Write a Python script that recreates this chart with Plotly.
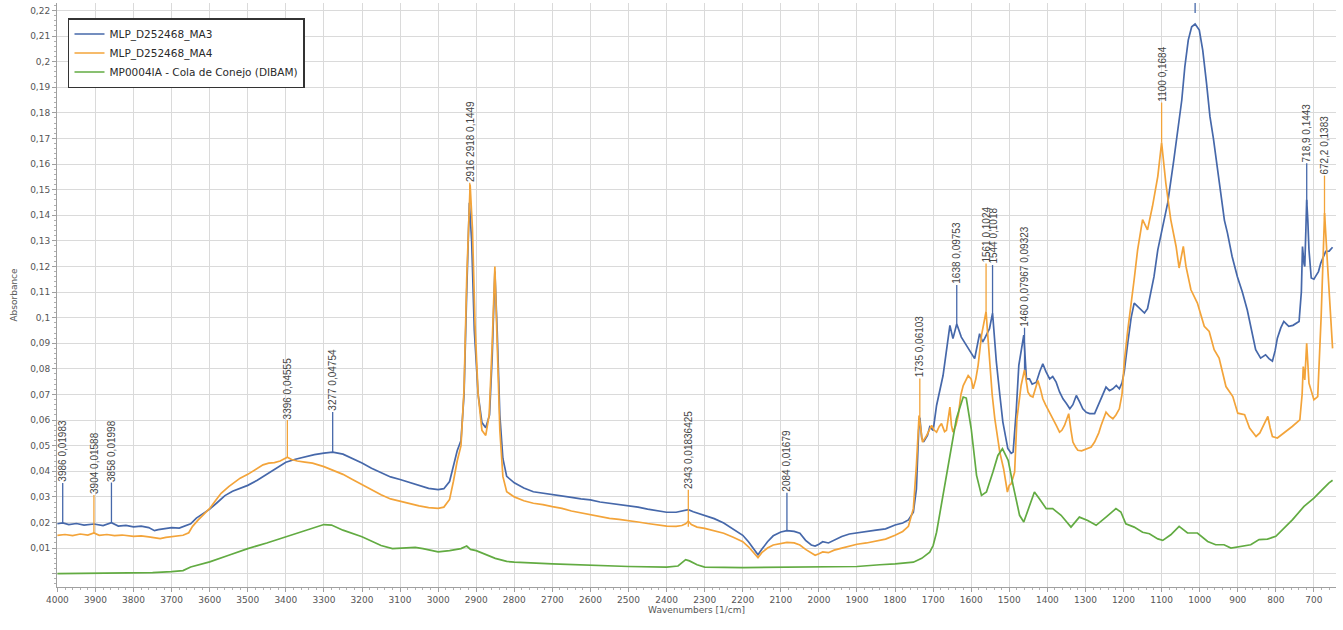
import plotly.graph_objects as go
import numpy as np

# ---------------- data ----------------
ma3_wn = [4000, 3986, 3970, 3950, 3930, 3904, 3880, 3858, 3840, 3820, 3800, 3780, 3760, 3745, 3735, 3720,
          3700, 3680, 3665, 3650, 3635, 3620, 3600, 3580, 3560, 3540, 3520, 3500, 3475, 3450, 3425, 3400,
          3375, 3350, 3325, 3300, 3277, 3250, 3225, 3200, 3175, 3150, 3125, 3100, 3075, 3050, 3025, 3000,
          2985, 2970, 2960, 2950, 2940, 2932, 2925, 2918, 2912, 2905, 2895, 2885, 2875, 2865, 2858, 2851,
          2845, 2838, 2830, 2820, 2800, 2775, 2750, 2725, 2700, 2675, 2650, 2625, 2600, 2575, 2550, 2525,
          2500, 2475, 2450, 2425, 2400, 2375, 2360, 2343, 2330, 2315, 2300, 2275, 2250, 2225, 2200, 2185,
          2170, 2160, 2150, 2135, 2120, 2100, 2084, 2065, 2050, 2035, 2020, 2010, 2000, 1990, 1975, 1960,
          1940, 1920, 1900, 1875, 1850, 1825, 1800, 1780, 1765, 1752, 1744, 1738, 1735, 1730, 1725, 1715,
          1709, 1700, 1691, 1674, 1662, 1656, 1648, 1638, 1626, 1613, 1600, 1591, 1578, 1570, 1565, 1552,
          1544, 1534, 1525, 1517, 1504, 1495, 1490, 1482, 1475, 1467, 1462, 1455, 1447, 1440, 1429, 1420,
          1412, 1404, 1394, 1386, 1377, 1368, 1359, 1350, 1341, 1333, 1324, 1315, 1307, 1298, 1289, 1276,
          1263, 1254, 1246, 1237, 1228, 1219, 1211, 1204, 1198, 1189, 1180, 1172, 1160, 1145, 1137, 1128,
          1120, 1110, 1097, 1084, 1068, 1058, 1047, 1039, 1030, 1021, 1012, 1001, 992, 982, 973, 964,
          955, 946, 935, 927, 915, 901, 888, 875, 863, 853, 840, 827, 818, 809, 802, 796,
          787, 779, 772, 766, 755, 745, 739, 733, 730, 726, 724, 721, 719, 716, 713, 707,
          700, 696, 688, 682, 675, 669, 660, 651]
ma3_abs = [0.0195, 0.0198, 0.0192, 0.0196, 0.0190, 0.0194, 0.0188, 0.0199, 0.0186, 0.0189, 0.0183, 0.0186, 0.0180, 0.0168, 0.0172, 0.0176,
           0.0180, 0.0178, 0.0186, 0.0195, 0.0217, 0.0232, 0.0252, 0.0278, 0.0305, 0.0322, 0.0335, 0.0345, 0.0365, 0.0388, 0.0410, 0.0435,
           0.0447, 0.0457, 0.0465, 0.0471, 0.0475, 0.0467, 0.0450, 0.0432, 0.0412, 0.0394, 0.0378, 0.0368, 0.0356, 0.0345, 0.0333, 0.0328,
           0.0332, 0.0360, 0.0420, 0.0480, 0.0520, 0.0700, 0.1100, 0.1449, 0.1300, 0.0950, 0.0700, 0.0590, 0.0570, 0.0620, 0.0850, 0.1180,
           0.0950, 0.0620, 0.0450, 0.0380, 0.0355, 0.0335, 0.0320, 0.0315, 0.0310, 0.0305, 0.0298, 0.0292, 0.0288, 0.0280, 0.0275, 0.0270,
           0.0266, 0.0260, 0.0252, 0.0245, 0.0240, 0.0240, 0.0245, 0.0250, 0.0242, 0.0235, 0.0228, 0.0215, 0.0198, 0.0175, 0.0150, 0.0125,
           0.0095, 0.0074, 0.0095, 0.0125, 0.0148, 0.0163, 0.0168, 0.0165, 0.0158, 0.0130, 0.0112, 0.0108, 0.0115, 0.0125, 0.0120, 0.0132,
           0.0145, 0.0155, 0.0160, 0.0165, 0.0170, 0.0175, 0.0190, 0.0198, 0.0210, 0.0240, 0.0330, 0.0560, 0.0610, 0.0530, 0.0515, 0.0540,
           0.0573, 0.0560, 0.0657, 0.0774, 0.0900, 0.0970, 0.0918, 0.0975, 0.0924, 0.0892, 0.0860, 0.0840, 0.0937, 0.0905, 0.0918, 0.0957,
           0.1018, 0.0827, 0.0700, 0.0593, 0.0489, 0.0470, 0.0475, 0.0631, 0.0814, 0.0880, 0.0932, 0.0761, 0.0761, 0.0740, 0.0748, 0.0790,
           0.0820, 0.0790, 0.0761, 0.0770, 0.0748, 0.0710, 0.0683, 0.0665, 0.0644, 0.0660, 0.0696, 0.0670, 0.0644, 0.0630, 0.0625, 0.0625,
           0.0670, 0.0700, 0.0729, 0.0715, 0.0722, 0.0735, 0.0722, 0.0745, 0.0790, 0.0900, 0.1000, 0.1057, 0.1040, 0.1018, 0.1035, 0.1096,
           0.1160, 0.1265, 0.1360, 0.1448, 0.1615, 0.1720, 0.1850, 0.1980, 0.2084, 0.2136, 0.2147, 0.2123, 0.2045, 0.1915, 0.1785, 0.1700,
           0.1600, 0.1480, 0.1380, 0.1330, 0.1240, 0.1160, 0.1100, 0.1030, 0.0950, 0.0875, 0.0842, 0.0855, 0.0840, 0.0830, 0.0870, 0.0920,
           0.0960, 0.0985, 0.0975, 0.0966, 0.0970, 0.0980, 0.0985, 0.1100, 0.1278, 0.1210, 0.1200, 0.1350, 0.1460, 0.1380, 0.1265, 0.1155,
           0.1150, 0.1160, 0.1180, 0.1213, 0.1240, 0.1259, 0.1260, 0.1275]

ma4_wn = [4000, 3980, 3960, 3940, 3920, 3904, 3890, 3870, 3850, 3830, 3800, 3780, 3760, 3740, 3730, 3715,
          3700, 3685, 3670, 3655, 3645, 3630, 3615, 3600, 3585, 3570, 3550, 3535, 3520, 3500, 3480, 3460,
          3445, 3430, 3415, 3396, 3385, 3370, 3350, 3330, 3300, 3275, 3250, 3225, 3200, 3175, 3150, 3125,
          3100, 3075, 3050, 3025, 3000, 2985, 2970, 2960, 2950, 2940, 2932, 2925, 2916, 2910, 2903, 2895,
          2885, 2875, 2866, 2858, 2851, 2845, 2838, 2830, 2820, 2800, 2775, 2750, 2725, 2700, 2675, 2650,
          2625, 2600, 2575, 2550, 2525, 2500, 2475, 2450, 2425, 2400, 2375, 2360, 2350, 2343, 2335, 2320,
          2300, 2275, 2250, 2225, 2200, 2185, 2170, 2160, 2150, 2135, 2120, 2100, 2084, 2065, 2050, 2035,
          2020, 2010, 2000, 1990, 1975, 1960, 1940, 1920, 1900, 1875, 1850, 1825, 1800, 1780, 1765, 1752,
          1744, 1737, 1732, 1728, 1717, 1710, 1704, 1697, 1691, 1684, 1678, 1670, 1665, 1656, 1652, 1648,
          1640, 1634, 1627, 1621, 1608, 1600, 1595, 1588, 1582, 1573, 1561, 1556, 1552, 1545, 1538, 1525,
          1515, 1509, 1505, 1500, 1495, 1486, 1480, 1469, 1460, 1451, 1445, 1438, 1432, 1425, 1418, 1412,
          1405, 1399, 1392, 1386, 1377, 1368, 1362, 1355, 1344, 1338, 1333, 1326, 1320, 1310, 1298, 1285,
          1276, 1265, 1259, 1246, 1237, 1228, 1220, 1211, 1204, 1198, 1189, 1180, 1172, 1163, 1150, 1137,
          1124, 1110, 1100, 1089, 1076, 1062, 1054, 1043, 1036, 1023, 1006, 988, 975, 962, 949, 931,
          913, 900, 882, 869, 852, 842, 834, 821, 815, 809, 796, 779, 757, 737, 731, 728,
          724, 719, 716, 713, 700, 690, 681, 675, 672, 665, 656, 651]
ma4_abs = [0.0150, 0.0153, 0.0149, 0.0155, 0.0151, 0.0159, 0.0150, 0.0153, 0.0149, 0.0151, 0.0146, 0.0148, 0.0144, 0.0140, 0.0137, 0.0142,
           0.0144, 0.0146, 0.0150, 0.0160, 0.0185, 0.0210, 0.0232, 0.0255, 0.0285, 0.0314, 0.0340, 0.0356, 0.0373, 0.0388, 0.0405, 0.0425,
           0.0432, 0.0434, 0.0440, 0.0455, 0.0446, 0.0440, 0.0436, 0.0432, 0.0418, 0.0402, 0.0388, 0.0368, 0.0348, 0.0326, 0.0308, 0.0292,
           0.0282, 0.0272, 0.0265, 0.0258, 0.0255, 0.0260, 0.0290, 0.0360, 0.0440, 0.0500, 0.0720, 0.1150, 0.1520, 0.1350, 0.0970, 0.0700,
           0.0560, 0.0540, 0.0620, 0.0900, 0.1200, 0.0900, 0.0560, 0.0380, 0.0320, 0.0300, 0.0285, 0.0275, 0.0270, 0.0262, 0.0255, 0.0245,
           0.0238, 0.0230, 0.0222, 0.0216, 0.0212, 0.0208, 0.0202, 0.0196, 0.0190, 0.0186, 0.0185, 0.0188, 0.0195, 0.0205, 0.0192, 0.0182,
           0.0177, 0.0168, 0.0158, 0.0142, 0.0125, 0.0105, 0.0080, 0.0063, 0.0082, 0.0100, 0.0112, 0.0118, 0.0122, 0.0120, 0.0112, 0.0095,
           0.0080, 0.0072, 0.0078, 0.0085, 0.0082, 0.0092, 0.0100, 0.0108, 0.0115, 0.0120, 0.0128, 0.0135, 0.0150, 0.0165, 0.0185, 0.0254,
           0.0423, 0.0618, 0.0560, 0.0514, 0.0540, 0.0560, 0.0579, 0.0560, 0.0553, 0.0575, 0.0586, 0.0555, 0.0560, 0.0651, 0.0580, 0.0553,
           0.0580, 0.0618, 0.0700, 0.0735, 0.0774, 0.0760, 0.0722, 0.0760, 0.0813, 0.0931, 0.1024, 0.0920, 0.0827, 0.0700, 0.0605, 0.0475,
           0.0410, 0.0360, 0.0319, 0.0345, 0.0351, 0.0397, 0.0605, 0.0735, 0.0797, 0.0709, 0.0695, 0.0690, 0.0720, 0.0755, 0.0720, 0.0683,
           0.0660, 0.0644, 0.0625, 0.0605, 0.0580, 0.0553, 0.0560, 0.0579, 0.0625, 0.0560, 0.0514, 0.0495, 0.0482, 0.0480, 0.0488, 0.0495,
           0.0514, 0.0550, 0.0579, 0.0631, 0.0615, 0.0605, 0.0620, 0.0644, 0.0700, 0.0827, 0.0950, 0.1050, 0.1150, 0.1265, 0.1383, 0.1343,
           0.1435, 0.1552, 0.1684, 0.1526, 0.1383, 0.1278, 0.1194, 0.1278, 0.1200, 0.1109, 0.1057, 0.0966, 0.0946, 0.0875, 0.0842, 0.0731,
           0.0692, 0.0627, 0.0621, 0.0569, 0.0536, 0.0550, 0.0575, 0.0614, 0.0570, 0.0536, 0.0530, 0.0549, 0.0575, 0.0601, 0.0700, 0.0809,
           0.0757, 0.0900, 0.0820, 0.0744, 0.0679, 0.0692, 0.1004, 0.1300, 0.1409, 0.1226, 0.0978, 0.0880]

ref_wn = [4000, 3900, 3800, 3750, 3700, 3670, 3650, 3600, 3550, 3500, 3450, 3400, 3350, 3300, 3280, 3250,
          3200, 3150, 3120, 3080, 3060, 3040, 3000, 2970, 2940, 2925, 2915, 2900, 2870, 2850, 2820, 2800,
          2700, 2600, 2500, 2400, 2370, 2350, 2340, 2320, 2300, 2200, 2100, 2000, 1900, 1840, 1800, 1752,
          1730, 1709, 1700, 1691, 1674, 1656, 1639, 1621, 1613, 1600, 1586, 1573, 1560, 1543, 1530, 1518,
          1503, 1490, 1473, 1462, 1447, 1434, 1421, 1403, 1386, 1364, 1338, 1316, 1294, 1272, 1246, 1220,
          1207, 1194, 1172, 1150, 1132, 1110, 1097, 1076, 1054, 1032, 1006, 979, 958, 936, 918, 883,
          866, 844, 822, 800, 783, 756, 726, 700, 678, 661, 651]
ref_abs = [0.0000, 0.0001, 0.0002, 0.0004, 0.0008, 0.0012, 0.0026, 0.0046, 0.0072, 0.0098, 0.0120, 0.0144, 0.0168, 0.0192, 0.0190, 0.0170,
           0.0144, 0.0110, 0.0098, 0.0100, 0.0103, 0.0098, 0.0085, 0.0090, 0.0098, 0.0108, 0.0095, 0.0090, 0.0072, 0.0060, 0.0048, 0.0045,
           0.0038, 0.0032, 0.0028, 0.0026, 0.0030, 0.0055, 0.0050, 0.0035, 0.0026, 0.0024, 0.0025, 0.0025, 0.0028, 0.0035, 0.0038, 0.0045,
           0.0060, 0.0084, 0.0110, 0.0162, 0.0306, 0.0475, 0.0605, 0.0690, 0.0686, 0.0566, 0.0384, 0.0306, 0.0319, 0.0397, 0.0462, 0.0488,
           0.0443, 0.0345, 0.0228, 0.0202, 0.0267, 0.0319, 0.0293, 0.0254, 0.0254, 0.0228, 0.0182, 0.0221, 0.0208, 0.0189, 0.0221, 0.0254,
           0.0241, 0.0195, 0.0182, 0.0162, 0.0156, 0.0136, 0.0130, 0.0152, 0.0185, 0.0159, 0.0159, 0.0126, 0.0113, 0.0113, 0.0100, 0.0107,
           0.0113, 0.0133, 0.0135, 0.0146, 0.0172, 0.0211, 0.0263, 0.0295, 0.0328, 0.0354, 0.0365]

series_names = ["MLP_D252468_MA3", "MLP_D252468_MA4", "MP0004IA - Cola de Conejo (DIBAM)"]

# peak labels: wavenumber, labelled absorbance, text, series index
label_wn = [3986, 3904, 3858, 3396, 3277, 2917, 2343, 2084, 1735, 1638, 1561, 1544, 1460, 1100, 718.9, 672.2]
label_val = [0.01983, 0.01588, 0.01998, 0.04555, 0.04754, 0.1449, 0.01836, 0.01679, 0.06103, 0.09753,
             0.1024, 0.1018, 0.07967, 0.1684, 0.1443, 0.1383]
label_text = ["3986 0,01983", "3904 0,01588", "3858 0,01998", "3396 0,04555", "3277 0,04754",
              "2916 2918 0,1449", "2343 0,01836425", "2084 0,01679", "1735 0,06103", "1638 0,09753",
              "1561 0,1024", "1544 0,1018", "1460 0,07967 0,09323", "1100 0,1684", "718,9 0,1443",
              "672,2 0,1383"]
label_series = [0, 1, 0, 1, 0, 1, 1, 0, 1, 0, 1, 0, 0, 1, 0, 1]

x_ticks = list(range(4000, 699, -100))
y_ticks = [round(0.01 * i, 2) for i in range(0, 23)]
y_ticktext = ["" if v == 0 else (("%.2f" % v).rstrip("0").rstrip(".")).replace(".", ",") for v in y_ticks]

# ---------------- figure ----------------
colors = ["#4668aa", "#f3a43a", "#62ab42"]
fig = go.Figure()
for name, wn, ab, col in zip(series_names, [ma3_wn, ma4_wn, ref_wn], [ma3_abs, ma4_abs, ref_abs], colors):
    fig.add_trace(go.Scatter(x=wn, y=ab, mode="lines", name=name,
                             line=dict(color=col, width=1.7)))

lead_len = [40, 38, 40, 37, 40, 20, 37, 38, 39, 39, 48, 48, 42, 40, 41, 44]
for wn, val, txt, s, L in zip(label_wn, label_val, label_text, label_series, lead_len):
    fig.add_shape(type="line", xref="x", yref="y", x0=wn, x1=wn,
                  ysizemode="pixel", yanchor=val, y0=0, y1=L,
                  line=dict(color=colors[s], width=1.3))
    fig.add_annotation(x=wn, y=val, yshift=L, text=txt, textangle=-90, showarrow=False,
                       xanchor="center", yanchor="bottom", borderpad=0,
                       font=dict(family="Liberation Sans", size=10, color="#454545"))

# leader of the main band (its label is cut off by the top of the plot)
i_max = int(np.argmax(ma3_abs))
fig.add_shape(type="line", xref="x", yref="y", x0=ma3_wn[i_max], x1=ma3_wn[i_max],
              ysizemode="pixel", yanchor=ma3_abs[i_max], y0=11, y1=40,
              line=dict(color=colors[0], width=1.3))

axis_font = dict(family="DejaVu Sans", size=9, color="#555555")
fig.update_layout(
    width=1343, height=630,
    paper_bgcolor="white", plot_bgcolor="white",
    margin=dict(l=57, r=7, t=3, b=43),
    font=dict(family="DejaVu Sans", size=9, color="#555555"),
    showlegend=True,
    legend=dict(x=0.0086, y=0.9743, xanchor="left", yanchor="top",
                bgcolor="white", bordercolor="#333333", borderwidth=1.5,
                font=dict(family="DejaVu Sans", size=10.5, color="#2a2a2a"),
                tracegroupgap=0, itemwidth=30),
    xaxis=dict(range=[4001, 642], tickmode="array", tickvals=x_ticks,
               ticktext=[str(v) for v in x_ticks], tickfont=axis_font, automargin=False,
               showgrid=True, gridcolor="#dadada", gridwidth=1, zeroline=False,
               showline=True, linecolor="#a0a0a0", linewidth=1,
               ticks="outside", ticklen=4, tickcolor="#a0a0a0",
               minor=dict(tickmode="linear", tick0=0, dtick=20, ticks="outside",
                          ticklen=2, tickcolor="#b0b0b0", showgrid=False),
               title=dict(text="Wavenumbers [1/cm]", font=axis_font, standoff=0)),
    yaxis=dict(range=[-0.0052, 0.2229], tickmode="array", tickvals=y_ticks, ticktext=y_ticktext,
               tickfont=axis_font, automargin=False,
               showgrid=True, gridcolor="#dadada", gridwidth=1, zeroline=False,
               showline=True, linecolor="#a0a0a0", linewidth=1,
               ticks="outside", ticklen=4, tickcolor="#a0a0a0",
               minor=dict(tickmode="linear", tick0=0, dtick=0.002, ticks="outside",
                          ticklen=2, tickcolor="#b0b0b0", showgrid=False),
               title=dict(text="Absorbance", font=axis_font, standoff=11)),
)

# the page's default 8px body margin would shift the 1343x630 figure; remove it
fig.write_html("out.html", config={"displayModeBar": False},
               post_script="document.body.style.margin='0';")
